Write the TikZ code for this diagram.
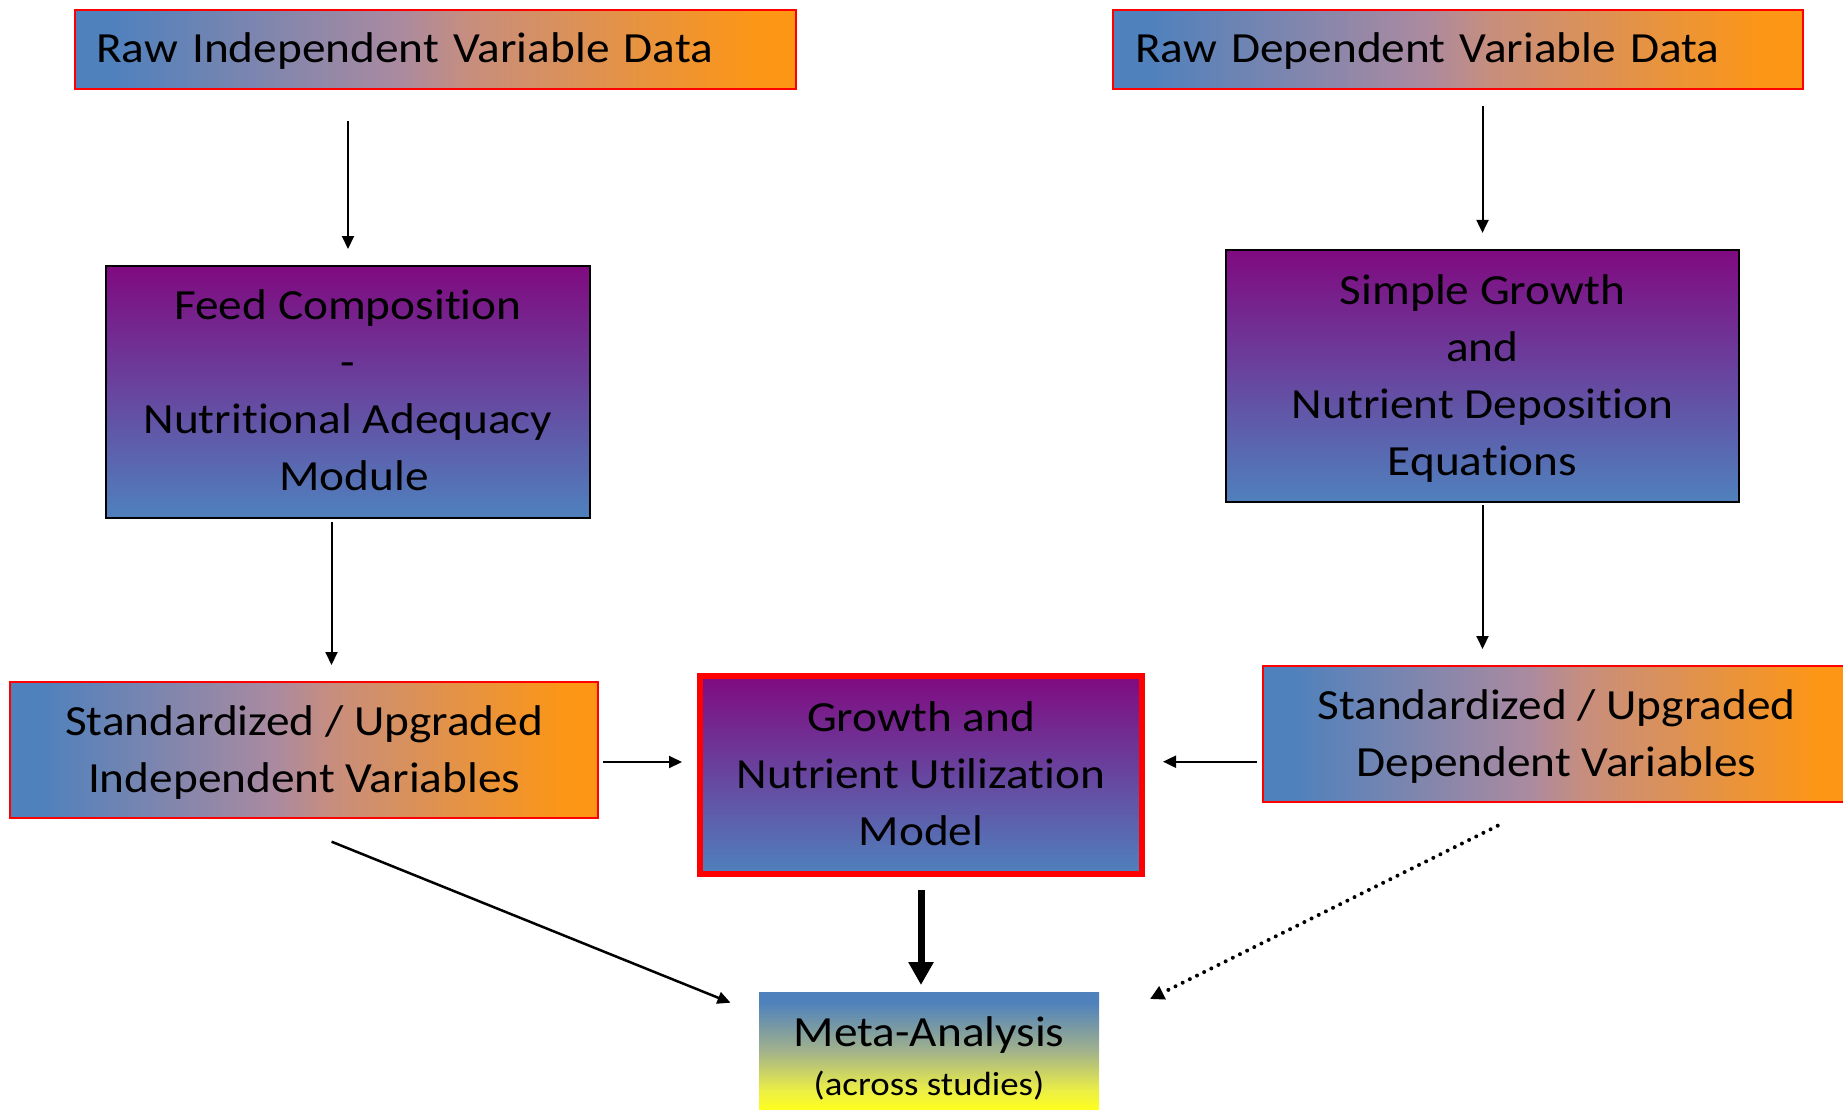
\documentclass[tikz,border=0pt]{standalone}
\usepackage{fontspec}
\setmainfont{Carlito}[FakeStretch=1.1, Ligatures={NoCommon}]
\usetikzlibrary{arrows.meta}

\definecolor{cblue}{RGB}{79,129,189}
\definecolor{corange}{RGB}{253,150,20}
\definecolor{cmauve}{RGB}{170,138,160}
\definecolor{csalmon}{RGB}{200,142,125}
\definecolor{cpurple}{RGB}{128,10,128}
\definecolor{cgreyg}{RGB}{162,178,140}
\definecolor{cpaley}{RGB}{235,238,70}
\definecolor{cyellow}{RGB}{255,255,30}
\definecolor{cred}{RGB}{255,0,0}

% blue -> orange, left to right
\pgfdeclarehorizontalshading{rawgrad}{100bp}{color(0bp)=(cblue); color(27.5bp)=(cblue); color(47.5bp)=(cmauve); color(52.5bp)=(csalmon); color(72.5bp)=(corange); color(100bp)=(corange)}
% yellow (bottom) -> blue (top)
\pgfdeclareverticalshading{metagrad}{100bp}{color(0bp)=(cyellow); color(30bp)=(cyellow); color(37.5bp)=(cpaley); color(52.5bp)=(cgreyg); color(71bp)=(cblue); color(100bp)=(cblue)}

% line strut: height 37pt, depth 10pt
\newcommand{\st}{\rule[-10pt]{0pt}{47pt}}

\begin{document}
\begin{tikzpicture}[x=1pt,y=-1pt,
  every node/.style={inner sep=0pt, outer sep=0pt, font=\fontsize{43pt}{57pt}\selectfont},
  rawbox/.style={shading=rawgrad, draw=cred, line width=2pt},
  modbox/.style={top color=cpurple, bottom color=cblue, draw=black, line width=2pt, align=center},
  keybox/.style={top color=cpurple, bottom color=cblue, draw=cred, line width=5.5pt, align=center},
  metabox/.style={shading=metagrad, align=center},
  arr/.style={-{Triangle[length=13pt,width=12pt]}, line width=2pt},
  thickarr/.style={-{Triangle[length=23pt,width=24pt]}, line width=7pt},
  dotarr/.style={-{Triangle[length=14pt,width=14pt]}, line width=4pt, line cap=round, dash pattern=on 0pt off 8pt}]

\useasboundingbox (0,0) rectangle (1843,1110);
\fill[white] (0,0) rectangle (1843,1110);

% top row: raw data
\node[rawbox, minimum width=721pt, minimum height=79pt, text width=679pt, align=left, inner xsep=21pt]
  (rawind) at (435.5,49.5) {\st Raw Independent Variable Data};
\node[rawbox, minimum width=690pt, minimum height=79pt, text width=646pt, align=left, inner xsep=22pt]
  (rawdep) at (1458,49.5) {\st Raw Dependent Variable Data};

% processing modules
\node[modbox, minimum width=484pt, minimum height=252pt] (feed) at (348,391.7)
  {\st Feed Composition\\\st -\\\st Nutritional Adequacy\\\st\hspace*{12pt}Module};
\node[modbox, minimum width=513pt, minimum height=252pt] (simple) at (1482.5,376.2)
  {\st Simple Growth\\\st and\\\st Nutrient Deposition\\\st Equations};

% standardized variables
\node[rawbox, minimum width=587.6pt, minimum height=136pt, align=center] (stdind) at (304.2,750)
  {\st Standardized / Upgraded\\\st Independent Variables};
\node[rawbox, minimum width=587pt, minimum height=136pt, align=center] (stddep) at (1556.5,734)
  {\st Standardized / Upgraded\\\st Dependent Variables};

% central model
\node[keybox, minimum width=442pt, minimum height=198pt] (model) at (921,775)
  {\st Growth and\\\st Nutrient Utilization\\\st Model};

% meta-analysis
\node[metabox, minimum width=340pt, minimum height=130.7pt] (meta) at (929,1057.35)
  {\st Meta-Analysis\\[-8.7pt]{\fontsize{33.5pt}{40pt}\selectfont (across studies)\rule[-10pt]{0pt}{10pt}}};

% connectors
\draw[arr, shorten <=32pt, shorten >=16.7pt] (rawind.south -| feed.north) -- (feed.north);
\draw[arr, shorten <=16.8pt, shorten >=17.3pt] (rawdep.south -| simple.north) -- (simple.north);
\draw[arr, shorten <=4.3pt, shorten >=17pt] ([xshift=-16.5pt]feed.south) -- ([xshift=-16.5pt]feed.south |- stdind.north);
\draw[arr, shorten <=2.7pt, shorten >=17pt] (simple.south) -- (simple.south |- stddep.north);
\draw[arr, shorten <=5pt, shorten >=18pt] ([yshift=-12pt]stdind.east) -- ([yshift=-12pt]stdind.east -| model.west);
\draw[arr, shorten <=6pt, shorten >=21pt] ([yshift=-27.7pt]stddep.west) -- ([yshift=-27.7pt]stddep.west -| model.east);
\draw[thickarr, shorten <=16pt, shorten >=7pt] (model.south) -- (model.south |- meta.north);
\draw[arr, line width=2.5pt] ([xshift=27.4pt,yshift=-23.7pt]stdind.south) -- ([xshift=-28.5pt,yshift=-10.7pt]meta.north west);
\draw[dotarr] ([xshift=-58.8pt,yshift=-23.7pt]stddep.south) -- ([xshift=51pt,yshift=-7pt]meta.north east);

\end{tikzpicture}
\end{document}
